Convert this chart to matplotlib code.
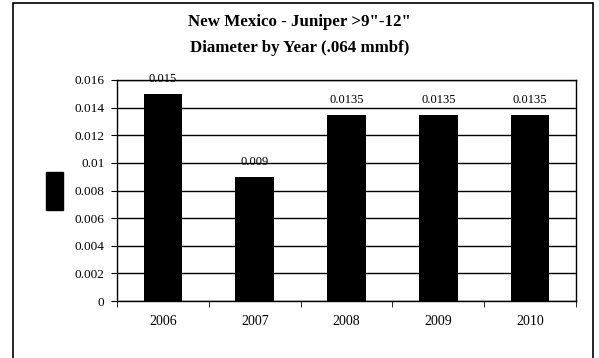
import matplotlib.pyplot as plt
from matplotlib.patches import Rectangle

years = ['2006', '2007', '2008', '2009', '2010']
values = [0.015, 0.009, 0.0135, 0.0135, 0.0135]
value_labels = ['0.015', '0.009', '0.0135', '0.0135', '0.0135']
yticks = [0, 0.002, 0.004, 0.006, 0.008, 0.01, 0.012, 0.014, 0.016]
ytick_labels = ['0', '0.002', '0.004', '0.006', '0.008', '0.01', '0.012', '0.014', '0.016']

plt.rcParams['font.family'] = 'Liberation Serif'

fig = plt.figure(figsize=(5.99, 3.58), dpi=100)
ax = fig.add_axes([117 / 599, 1 - 301 / 358, (576 - 117) / 599, (301 - 80) / 358])

# borde exterior del grafico (el borde inferior queda fuera de la imagen)
fig.patches.append(Rectangle((12.5 / 599, -0.05), (592.5 - 12.5) / 599, 1 - 3 / 358 + 0.05,
                             transform=fig.transFigure, fill=False, edgecolor='black', linewidth=1.2))

x = list(range(len(years)))
ax.bar(x, values, width=0.42, color='black', zorder=3)
for xi, v, lab in zip(x, values, value_labels):
    ax.annotate(lab, (xi, v), xytext=(0, 10.5), textcoords='offset points',
                ha='center', va='center', fontsize=9, zorder=4)

ax.set_xlim(-0.5, len(years) - 0.5)
ax.set_ylim(0, 0.016)
ax.set_yticks(yticks)
ax.set_yticklabels(ytick_labels, fontsize=9.5)
ax.set_xticks(x)
ax.set_xticklabels(years, fontsize=10)
ax.set_xticks([i - 0.5 for i in range(len(years) + 1)], minor=True)
ax.tick_params(axis='x', which='major', length=0, pad=10)
ax.tick_params(axis='x', which='minor', length=4, direction='out')
ax.tick_params(axis='y', length=4, direction='out', pad=5)
ax.yaxis.grid(True, color='black', linewidth=1, zorder=0)
for s in ax.spines.values():
    s.set_linewidth(1)

# marcador de leyenda sin texto
fig.patches.append(Rectangle((46 / 599, 1 - 210 / 358), 17 / 599, 38 / 358,
                             transform=fig.transFigure, facecolor='black', edgecolor='black'))

fig.text(0.5, 1 - 22 / 358, 'New Mexico - Juniper >9"-12"', ha='center', va='center',
         fontsize=12.2, fontweight='bold')
fig.text(0.5, 1 - 48 / 358, 'Diameter by Year (.064 mmbf)', ha='center', va='center',
         fontsize=12.2, fontweight='bold')

fig.savefig('out.png', dpi=100)
